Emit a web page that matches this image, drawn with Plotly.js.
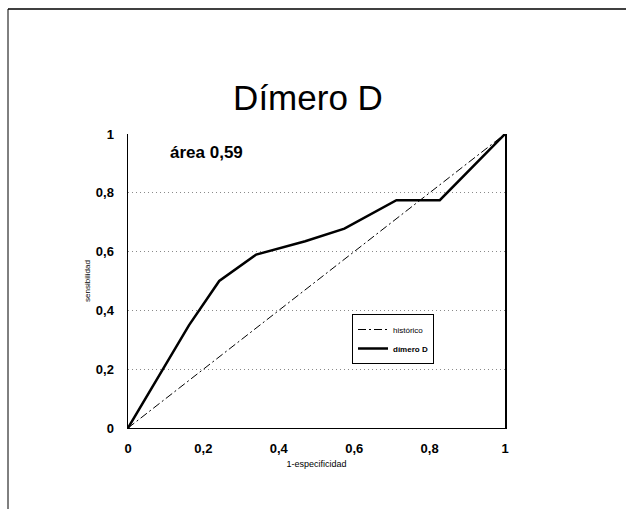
<!DOCTYPE html>
<html>
<head>
<meta charset="utf-8">
<script src="https://cdn.plot.ly/plotly-3.0.1.min.js"></script>
<style>html,body{margin:0;padding:0;background:#fff;}#chart{width:626px;height:509px;}</style>
</head>
<body>
<div id="chart"></div>
<script>
// Data
const diagX = [0, 1];
const diagY = [0, 1];
const rocX = [0, 0.162, 0.242, 0.34, 0.47, 0.574, 0.712, 0.827, 1];
const rocY = [0, 0.35, 0.50, 0.59, 0.635, 0.678, 0.775, 0.775, 1];
const tickVals = [0, 0.2, 0.4, 0.6, 0.8, 1];
const tickText = ['0', '0,2', '0,4', '0,6', '0,8', '1'];
const titleText = 'Dímero D';
const areaText = 'área 0,59';

const L = 128, R = 505, T = 134, B = 428;
const W = R - L, H = B - T;
const px = v => (v - L) / W;
const py = v => (B - v) / H;

const traces = [
  {x: diagX, y: diagY, mode: 'lines', name: 'histórico',
   line: {color: '#000', width: 1, dash: '8px,3px,2px,3px'}},
  {x: rocX, y: rocY, mode: 'lines', name: '<b>dímero D</b>',
   line: {color: '#000', width: 2.5}}
];

const layout = {
  width: 626, height: 509,
  margin: {l: L, r: 626 - R, t: T, b: 509 - B, pad: 0},
  paper_bgcolor: '#fff', plot_bgcolor: '#fff',
  font: {family: 'Liberation Sans, Arial, sans-serif', color: '#000'},
  title: {text: titleText, font: {size: 35, family: 'Liberation Sans, Arial, sans-serif', color: '#000'},
          x: 0.492, xanchor: 'center', y: 0.807, yanchor: 'middle'},
  xaxis: {range: [0, 1], tickvals: tickVals, ticktext: tickText,
          showgrid: false, zeroline: false, showline: true, linecolor: '#000', linewidth: 1,
          ticks: '', ticklabelstandoff: 8,
          tickfont: {size: 13, weight: 'bold'},
          title: {text: '1-especificidad', font: {size: 9}, standoff: 6}},
  yaxis: {range: [0, 1], tickvals: tickVals, ticktext: tickText,
          showgrid: true, gridcolor: '#8a8a8a', griddash: '1px,3px', gridwidth: 1,
          zeroline: false, showline: true, mirror: true, linecolor: '#000', linewidth: 1.5,
          ticks: '', ticklabelstandoff: 10,
          tickfont: {size: 13, weight: 'bold'},
          title: {text: 'sensibilidad', font: {size: 8}, standoff: 4}},
  legend: {x: px(352), y: py(314), xanchor: 'left', yanchor: 'top',
           bgcolor: 'rgba(0,0,0,0)', bordercolor: '#000', borderwidth: 1,
           font: {size: 8}, itemwidth: 30, tracegroupgap: 0},
  showlegend: true,
  annotations: [
    {text: '<b>' + areaText + '</b>', xref: 'paper', yref: 'paper',
     x: px(206), y: py(152), xanchor: 'center', yanchor: 'middle',
     showarrow: false, font: {size: 17, color: '#000'}}
  ],
  shapes: [
    {type: 'line', xref: 'paper', yref: 'paper', x0: px(8), x1: px(626), y0: py(9), y1: py(9),
     line: {color: '#000', width: 1.5}},
    {type: 'line', xref: 'paper', yref: 'paper', x0: px(8), x1: px(8), y0: py(9), y1: py(509),
     line: {color: '#000', width: 1}}
  ]
};

Plotly.newPlot('chart', traces, layout, {displayModeBar: false, staticPlot: true});
</script>
</body>
</html>
